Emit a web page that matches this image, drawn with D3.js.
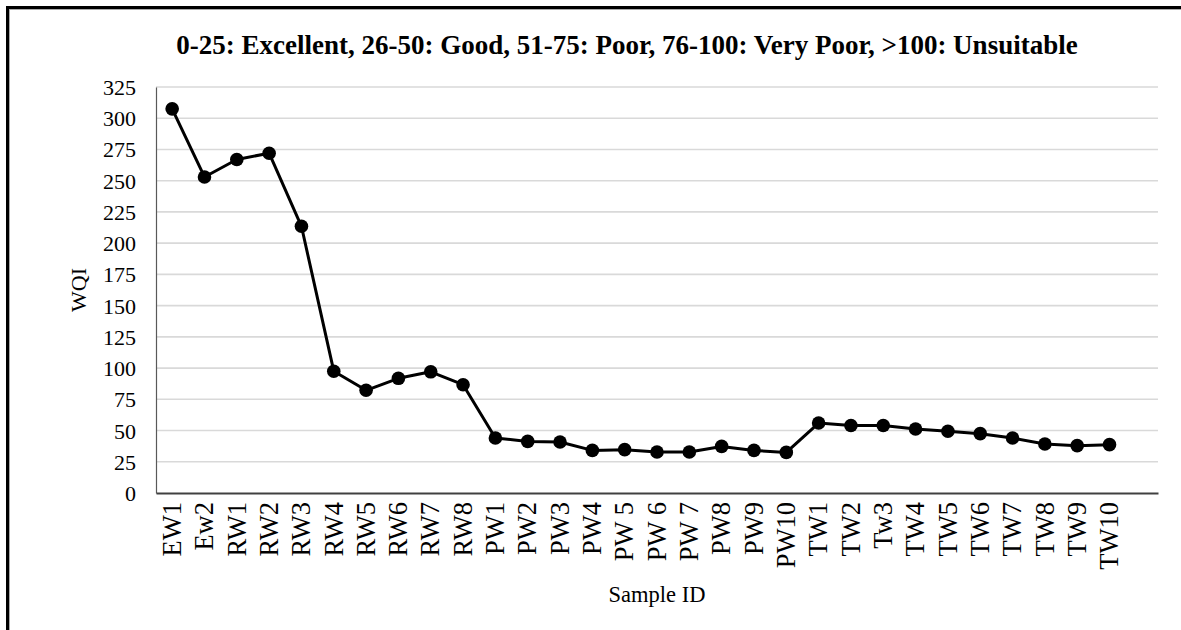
<!DOCTYPE html>
<html>
<head>
<meta charset="utf-8">
<script src="https://cdn.jsdelivr.net/npm/d3@7/dist/d3.min.js"></script>
<style>
  html, body { margin: 0; padding: 0; background: #fff; }
  svg { display: block; }
  text { font-family: "Times New Roman", "Liberation Serif", serif; fill: #000; }
</style>
</head>
<body>
<svg id="chart" width="1181" height="630"></svg>
<script>
// Water Quality Index by sample
const sampleIds = ["EW1","Ew2","RW1","RW2","RW3","RW4","RW5","RW6","RW7","RW8",
  "PW1","PW2","PW3","PW4","PW 5","PW 6","PW 7","PW8","PW9","PW10",
  "TW1","TW2","Tw3","TW4","TW5","TW6","TW7","TW8","TW9","TW10"];
const wqiValues = [307.5, 253, 267, 272, 213.5, 97.5, 82.2, 91.8, 97, 86.7,
  44, 41.3, 40.8, 34.1, 34.7, 32.8, 32.8, 37.3, 34.1, 32.5,
  56, 54, 54, 51.2, 49.4, 47.5, 44, 39.2, 37.9, 38.7];
const yTicks = [0,25,50,75,100,125,150,175,200,225,250,275,300,325];
const titleText = "0-25: Excellent, 26-50: Good, 51-75: Poor, 76-100: Very Poor, >100: Unsuitable";

const svg = d3.select("#chart");
const W = 1181, H = 630;
const m = { left: 156, right: 1158, top: 87, bottom: 493 };

// frame
svg.append("rect").attr("x", 0).attr("y", 0).attr("width", W).attr("height", H).attr("fill", "#fff");
svg.append("line").attr("x1", 7.5).attr("x2", 7.5).attr("y1", 6).attr("y2", H).attr("stroke", "#000").attr("stroke-width", 3);
svg.append("line").attr("x1", 6).attr("x2", W).attr("y1", 7.5).attr("y2", 7.5).attr("stroke", "#000").attr("stroke-width", 3);
svg.append("line").attr("x1", 9.5).attr("x2", 9.5).attr("y1", 9).attr("y2", H).attr("stroke", "#aaa").attr("stroke-width", 1);
svg.append("line").attr("x1", 9).attr("x2", W).attr("y1", 9.5).attr("y2", 9.5).attr("stroke", "#aaa").attr("stroke-width", 1);

// one spare band at the right end keeps the last point off the edge
const x = d3.scaleBand().domain([...sampleIds, "__pad"]).range([m.left, m.right]);
const y = d3.scaleLinear().domain([0, 325]).range([m.bottom, m.top]);
const cx = d => x(d) + x.bandwidth() / 2;

// gridlines
svg.append("g").selectAll("line").data(yTicks.filter(t => t > 0)).join("line")
  .attr("x1", m.left).attr("x2", m.right)
  .attr("y1", d => y(d)).attr("y2", d => y(d))
  .attr("stroke", "#d9d9d9").attr("stroke-width", 1.6);

// y axis
const yAxis = svg.append("g").attr("transform", `translate(${m.left},0)`)
  .call(d3.axisLeft(y).tickValues(yTicks).tickSize(0).tickPadding(20));
yAxis.select(".domain").attr("stroke", "#595959").attr("stroke-width", 1.2);
yAxis.selectAll("text").style("font-size", "22px").attr("dy", "0.34em");

// x axis
const xAxis = svg.append("g").attr("transform", `translate(0,${m.bottom})`)
  .call(d3.axisBottom(x).tickValues(sampleIds).tickSize(0));
xAxis.select(".domain").attr("stroke", "#404040").attr("stroke-width", 1.8);
xAxis.selectAll("text")
  .style("font-size", "26.5px")
  .attr("text-anchor", "end")
  .attr("transform", "rotate(-90)")
  .attr("x", -9).attr("y", 0).attr("dy", "0.33em");

// series line and markers
const line = d3.line().x((d, i) => cx(sampleIds[i])).y(d => y(d));
svg.append("path").datum(wqiValues).attr("d", line)
  .attr("fill", "none").attr("stroke", "#000").attr("stroke-width", 3).attr("stroke-linejoin", "round");
svg.append("g").selectAll("circle").data(wqiValues).join("circle")
  .attr("cx", (d, i) => cx(sampleIds[i])).attr("cy", d => y(d)).attr("r", 6.8).attr("fill", "#000");

// titles
svg.append("text").attr("x", 627).attr("y", 54).attr("text-anchor", "middle")
  .style("font-size", "27px").style("font-weight", "bold").text(titleText);
svg.append("text").attr("x", (m.left + m.right) / 2).attr("y", 602).attr("text-anchor", "middle")
  .style("font-size", "22.5px").text("Sample ID");
svg.append("text").attr("transform", `translate(86,${(m.top + m.bottom) / 2}) rotate(-90)`)
  .attr("text-anchor", "middle").style("font-size", "22px").text("WQI");
</script>
</body>
</html>
